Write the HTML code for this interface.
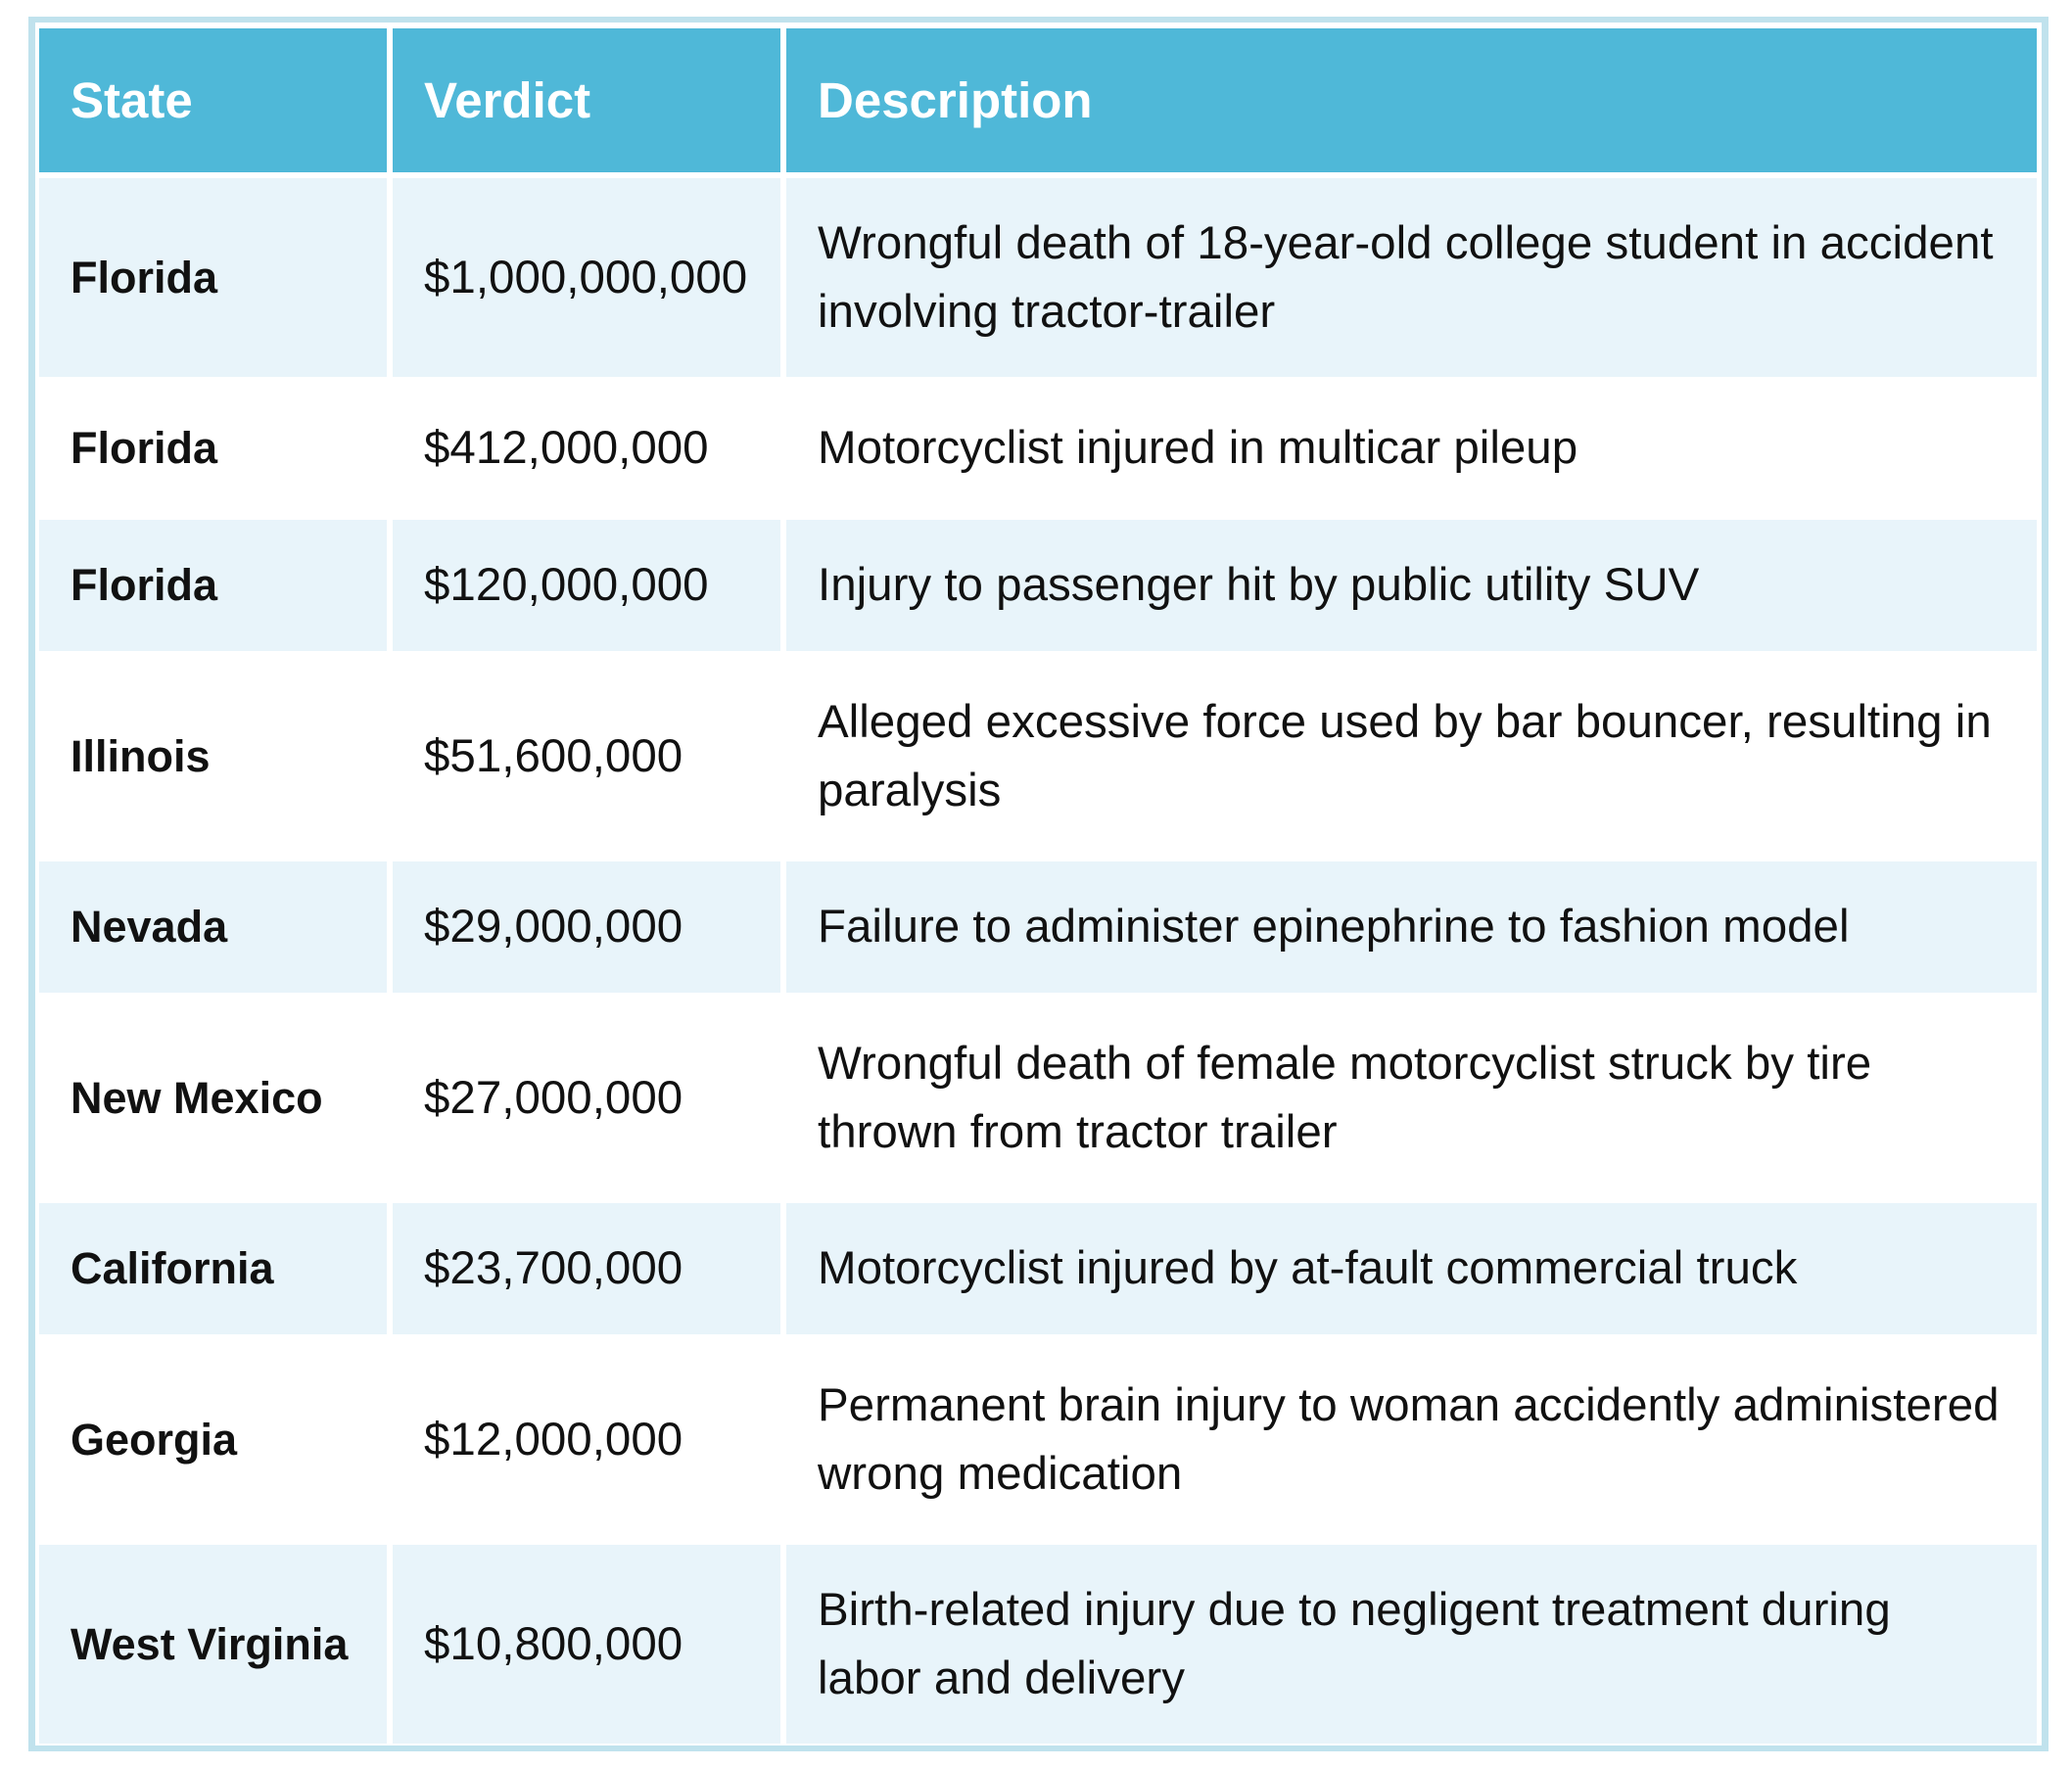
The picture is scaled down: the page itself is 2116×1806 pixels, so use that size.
<!DOCTYPE html>
<html><head><meta charset="utf-8"><style>
html,body{margin:0;padding:0;background:#fff;}
body{width:2116px;height:1806px;position:relative;overflow:hidden;font-family:"Liberation Sans",sans-serif;}
.frame{position:absolute;left:29px;top:17px;width:2063px;height:1772px;box-sizing:border-box;border:7px solid #c0e2ed;border-top-width:6px;border-bottom-width:6px;}
.grid{position:absolute;left:40px;top:29px;width:2040px;display:grid;grid-template-columns:355px 396px 1277px;column-gap:6px;row-gap:6px;
grid-template-rows:147px 203px 134px 134px 203px 134px 203px 134px 203px 203px;}
.c{display:flex;align-items:center;padding-left:32px;box-sizing:border-box;font-size:47.5px;color:#111;line-height:70px;white-space:nowrap;}
.h{background:#4fb8d8;color:#fff;font-weight:bold;font-size:51px;}
.a{background:#e8f4fa;}
.b{font-weight:bold;font-size:45px;}
.d{font-size:47.5px;}
</style></head><body>
<div class="frame"></div>
<div class="grid">
<div class="c h">State</div><div class="c h">Verdict</div><div class="c h">Description</div>
<div class="c a b">Florida</div><div class="c a">$1,000,000,000</div><div class="c a d">Wrongful death of 18-year-old college student in accident<br>involving tractor-trailer</div>
<div class="c b">Florida</div><div class="c">$412,000,000</div><div class="c d">Motorcyclist injured in multicar pileup</div>
<div class="c a b">Florida</div><div class="c a">$120,000,000</div><div class="c a d">Injury to passenger hit by public utility SUV</div>
<div class="c b">Illinois</div><div class="c">$51,600,000</div><div class="c d">Alleged excessive force used by bar bouncer, resulting in<br>paralysis</div>
<div class="c a b">Nevada</div><div class="c a">$29,000,000</div><div class="c a d">Failure to administer epinephrine to fashion model</div>
<div class="c b">New Mexico</div><div class="c">$27,000,000</div><div class="c d">Wrongful death of female motorcyclist struck by tire<br>thrown from tractor trailer</div>
<div class="c a b">California</div><div class="c a">$23,700,000</div><div class="c a d">Motorcyclist injured by at-fault commercial truck</div>
<div class="c b">Georgia</div><div class="c">$12,000,000</div><div class="c d">Permanent brain injury to woman accidently administered<br>wrong medication</div>
<div class="c a b">West Virginia</div><div class="c a">$10,800,000</div><div class="c a d">Birth-related injury due to negligent treatment during<br>labor and delivery</div>
</div>
</body></html>
